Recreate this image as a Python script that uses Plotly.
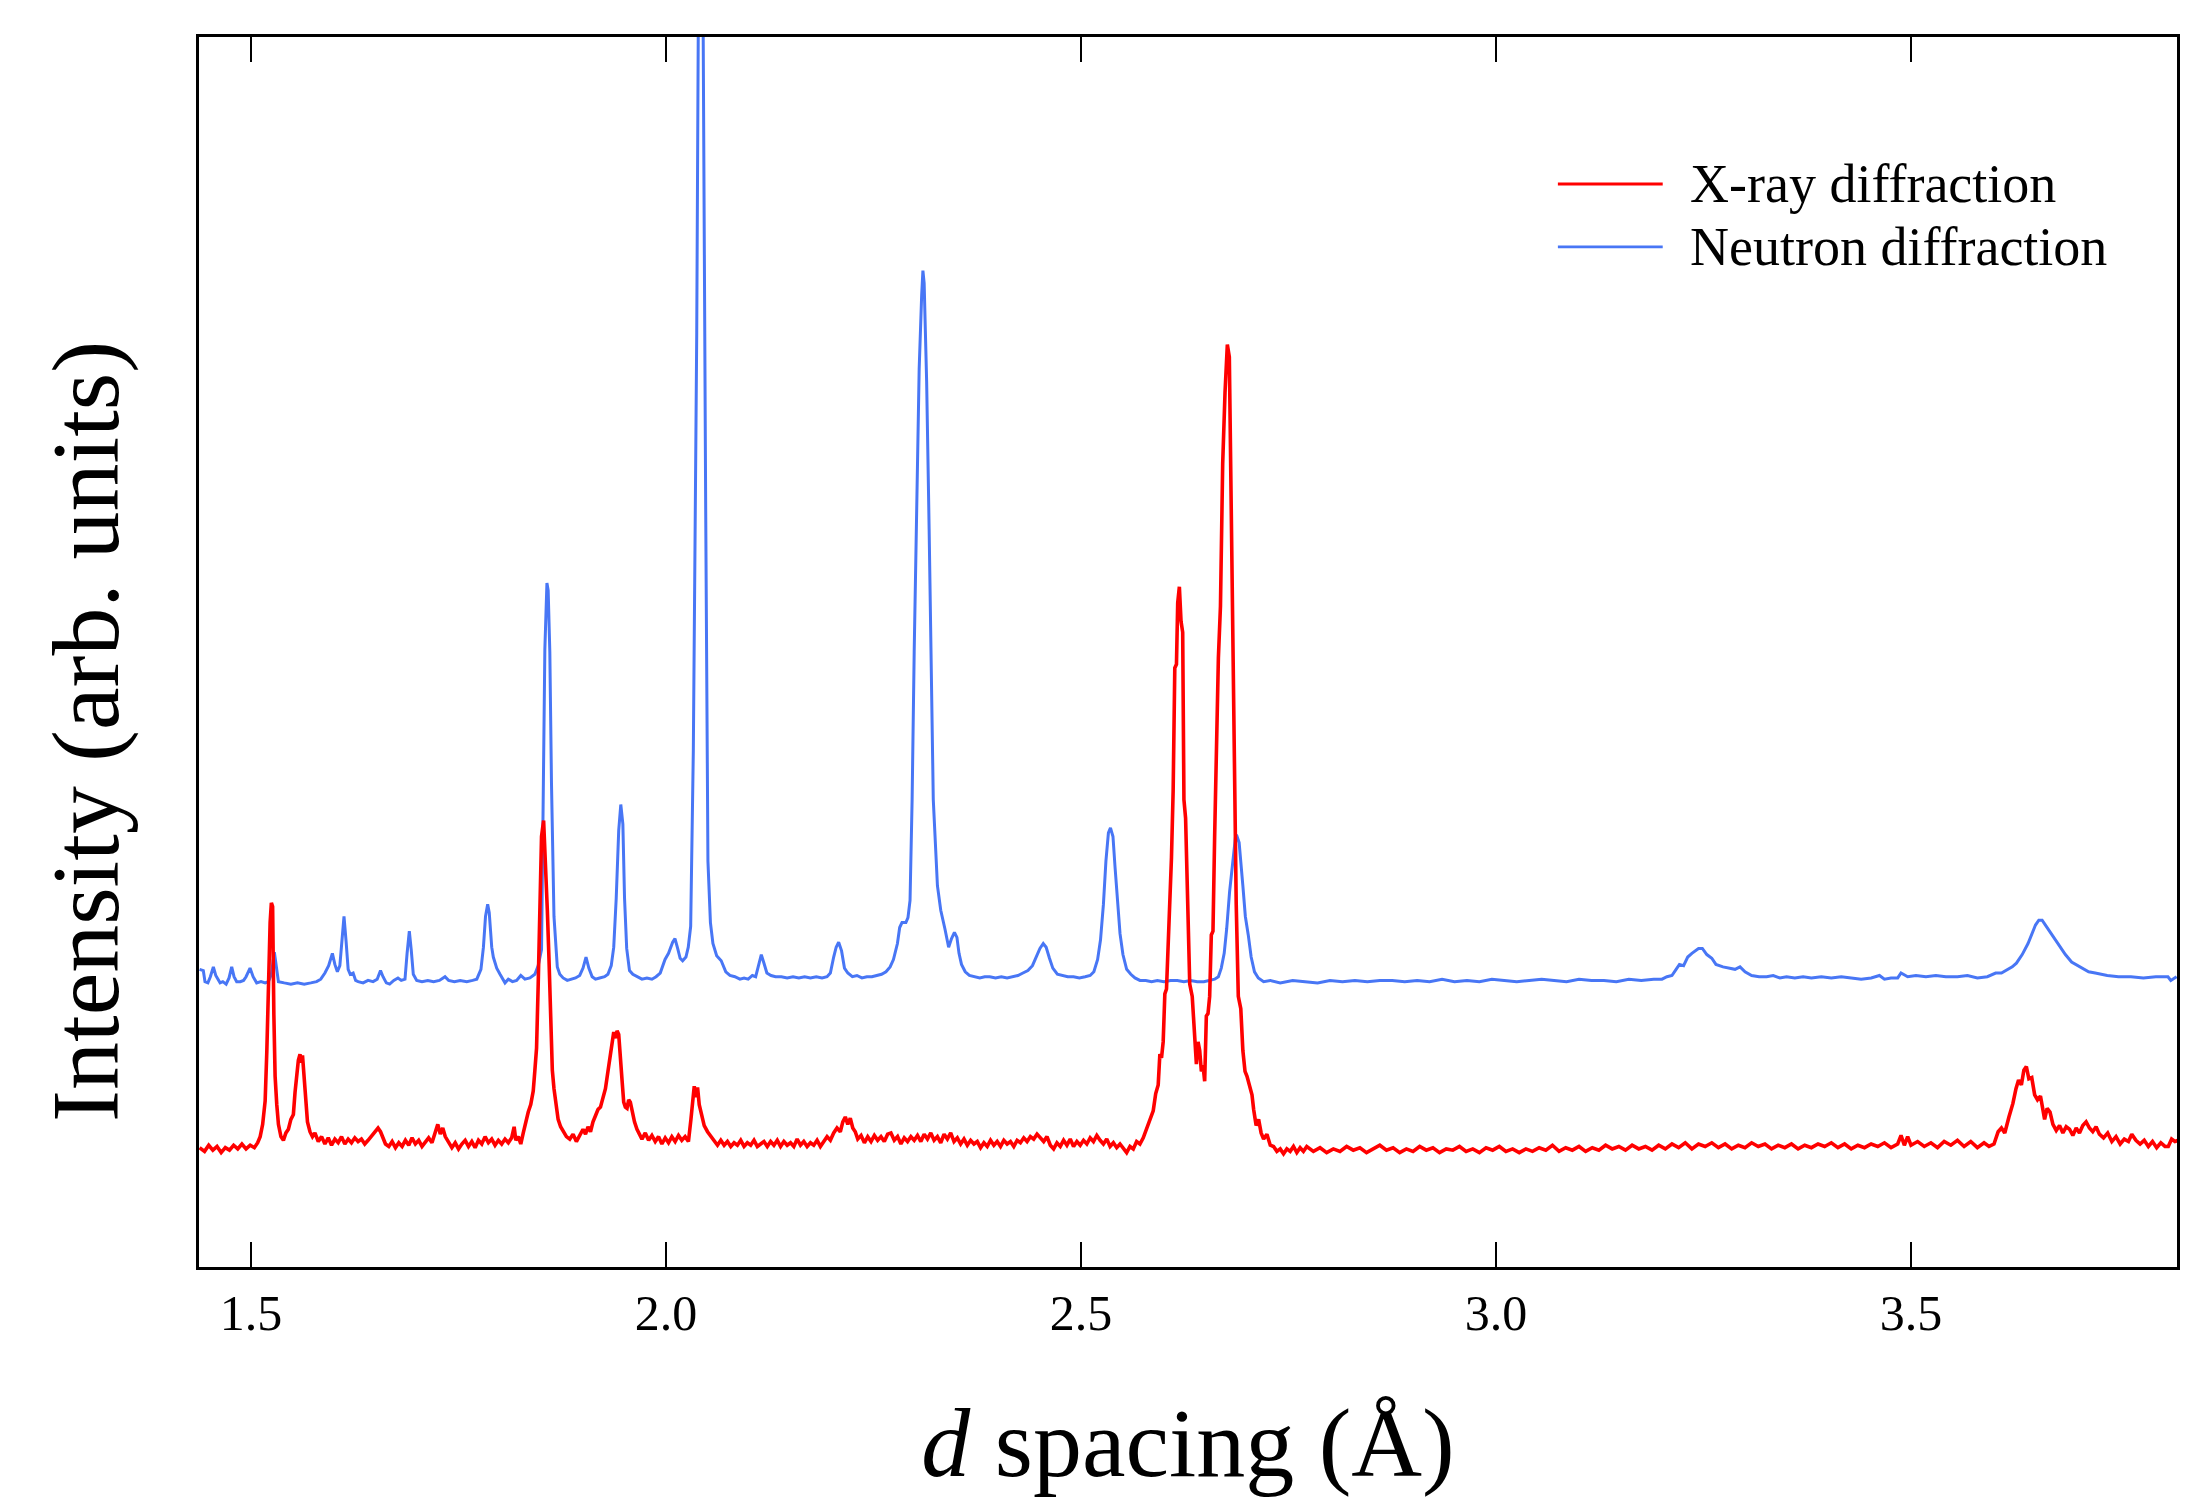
import plotly.graph_objects as go

# ---------------- data ----------------
SERIES_NAMES = ["X-ray diffraction", "Neutron diffraction"]

XRAY_D = [
    1.438, 1.444, 1.449, 1.454, 1.459, 1.464, 1.469, 1.474, 1.479, 1.484, 1.489, 1.494, 1.499, 1.504,
    1.508, 1.511, 1.514, 1.517, 1.519, 1.521, 1.523, 1.5245, 1.526, 1.5275, 1.529, 1.531, 1.533, 1.536,
    1.539, 1.542, 1.545, 1.548, 1.551, 1.553, 1.555, 1.557, 1.559, 1.5605, 1.562, 1.564, 1.566, 1.568,
    1.571, 1.574, 1.577, 1.581, 1.585, 1.589, 1.593, 1.597, 1.601, 1.605, 1.609, 1.613, 1.617, 1.621,
    1.625, 1.629, 1.633, 1.637, 1.641, 1.645, 1.649, 1.653, 1.656, 1.659, 1.662, 1.666, 1.670, 1.674,
    1.678, 1.682, 1.686, 1.690, 1.694, 1.698, 1.702, 1.706, 1.710, 1.714, 1.718, 1.722, 1.725, 1.728,
    1.731, 1.734, 1.738, 1.742, 1.746, 1.750, 1.754, 1.758, 1.762, 1.766, 1.770, 1.774, 1.778, 1.782,
    1.786, 1.790, 1.794, 1.798, 1.802, 1.806, 1.810, 1.814, 1.817, 1.819, 1.822, 1.825, 1.828, 1.831,
    1.834, 1.837, 1.840, 1.842, 1.844, 1.846, 1.848, 1.850, 1.8525, 1.855, 1.857, 1.859, 1.861, 1.863,
    1.865, 1.867, 1.870, 1.873, 1.876, 1.880, 1.884, 1.888, 1.892, 1.896, 1.900, 1.903, 1.906, 1.909,
    1.912, 1.915, 1.918, 1.921, 1.924, 1.927, 1.930, 1.933, 1.935, 1.937, 1.939, 1.941, 1.943, 1.945,
    1.947, 1.949, 1.951, 1.953, 1.955, 1.957, 1.959, 1.962, 1.965, 1.968, 1.971, 1.975, 1.979, 1.983,
    1.987, 1.991, 1.995, 1.999, 2.003, 2.007, 2.011, 2.015, 2.019, 2.023, 2.027, 2.030, 2.032, 2.034,
    2.036, 2.038, 2.040, 2.043, 2.046, 2.050, 2.054, 2.058, 2.062, 2.066, 2.070, 2.074, 2.078, 2.082,
    2.086, 2.090, 2.094, 2.098, 2.102, 2.106, 2.110, 2.114, 2.118, 2.122, 2.126, 2.130, 2.134, 2.138,
    2.142, 2.146, 2.150, 2.154, 2.158, 2.162, 2.166, 2.170, 2.174, 2.178, 2.182, 2.186, 2.190, 2.194,
    2.198, 2.202, 2.206, 2.210, 2.213, 2.216, 2.219, 2.222, 2.225, 2.228, 2.231, 2.235, 2.239, 2.243,
    2.247, 2.251, 2.255, 2.259, 2.263, 2.267, 2.271, 2.275, 2.279, 2.283, 2.287, 2.291, 2.295, 2.299,
    2.303, 2.307, 2.311, 2.315, 2.319, 2.323, 2.327, 2.331, 2.335, 2.339, 2.343, 2.347, 2.351, 2.355,
    2.359, 2.363, 2.367, 2.371, 2.375, 2.379, 2.383, 2.387, 2.391, 2.395, 2.399, 2.403, 2.407, 2.411,
    2.415, 2.419, 2.423, 2.427, 2.431, 2.435, 2.439, 2.443, 2.447, 2.451, 2.455, 2.459, 2.463, 2.467,
    2.471, 2.475, 2.479, 2.483, 2.487, 2.491, 2.495, 2.499, 2.503, 2.507, 2.511, 2.515, 2.519, 2.523,
    2.527, 2.531, 2.535, 2.539, 2.543, 2.547, 2.551, 2.555, 2.559, 2.563, 2.567, 2.571, 2.575, 2.579,
    2.583, 2.587, 2.590, 2.593, 2.595, 2.597, 2.599, 2.601, 2.603, 2.605, 2.607, 2.609, 2.611, 2.613,
    2.615, 2.6165, 2.6185, 2.6205, 2.6225, 2.624, 2.626, 2.629, 2.631, 2.634, 2.637, 2.639, 2.641, 2.643,
    2.645, 2.647, 2.649, 2.651, 2.653, 2.655, 2.657, 2.659, 2.661, 2.663, 2.6655, 2.668, 2.6707, 2.6735,
    2.6763, 2.6787, 2.6815, 2.6843, 2.687, 2.6895, 2.6925, 2.695, 2.6976, 2.700, 2.703, 2.706, 2.708, 2.711,
    2.714, 2.717, 2.720, 2.724, 2.728, 2.732, 2.736, 2.740, 2.744, 2.748, 2.752, 2.756, 2.760, 2.764,
    2.768, 2.772, 2.780, 2.788, 2.796, 2.804, 2.812, 2.820, 2.828, 2.836, 2.844, 2.852, 2.860, 2.868,
    2.876, 2.884, 2.892, 2.900, 2.908, 2.916, 2.924, 2.932, 2.940, 2.948, 2.956, 2.964, 2.972, 2.980,
    2.988, 2.996, 3.004, 3.012, 3.020, 3.028, 3.036, 3.044, 3.052, 3.060, 3.068, 3.076, 3.084, 3.092,
    3.100, 3.108, 3.116, 3.124, 3.132, 3.140, 3.148, 3.156, 3.164, 3.172, 3.180, 3.188, 3.196, 3.204,
    3.212, 3.220, 3.228, 3.236, 3.244, 3.252, 3.260, 3.268, 3.276, 3.284, 3.292, 3.300, 3.308, 3.316,
    3.324, 3.332, 3.340, 3.348, 3.356, 3.364, 3.372, 3.380, 3.388, 3.396, 3.404, 3.412, 3.420, 3.428,
    3.436, 3.444, 3.452, 3.460, 3.468, 3.476, 3.484, 3.488, 3.492, 3.496, 3.500, 3.508, 3.516, 3.524,
    3.532, 3.540, 3.548, 3.556, 3.564, 3.572, 3.580, 3.588, 3.594, 3.600, 3.605, 3.609, 3.613, 3.618,
    3.6228, 3.6265, 3.6296, 3.633, 3.636, 3.639, 3.642, 3.6455, 3.649, 3.6524, 3.656, 3.661, 3.664, 3.6675,
    3.671, 3.675, 3.679, 3.683, 3.687, 3.691, 3.695, 3.699, 3.703, 3.707, 3.711, 3.715, 3.719, 3.723,
    3.727, 3.732, 3.737, 3.742, 3.747, 3.752, 3.757, 3.762, 3.766, 3.771, 3.776, 3.781, 3.786, 3.791,
    3.796, 3.801, 3.806, 3.810, 3.814, 3.818, 3.822,
]
XRAY_I = [
    9.7, 9.4, 9.9, 9.5, 9.8, 9.3, 9.7, 9.5, 9.9, 9.6, 10.0, 9.6, 9.9, 9.7,
    10.1, 10.6, 11.6, 13.5, 17.5, 24.0, 28.0, 29.6, 29.3, 20.5, 15.5, 13.2, 11.6, 10.6,
    10.3, 10.9, 11.2, 12.0, 12.4, 14.2, 15.8, 16.8, 17.3, 16.6, 17.2, 15.6, 13.2, 11.8,
    11.0, 10.6, 10.9, 10.2, 10.6, 10.0, 10.5, 9.9, 10.4, 10.1, 10.6, 10.0, 10.4, 10.1,
    10.5, 10.2, 10.4, 10.0, 10.3, 10.6, 10.9, 11.3, 11.0, 10.5, 10.0, 9.8, 10.2, 9.7,
    10.1, 9.8, 10.3, 9.9, 10.5, 10.0, 10.3, 9.8, 10.2, 10.5, 10.1, 11.0, 11.6, 10.8,
    11.3, 10.6, 10.2, 9.7, 10.1, 9.6, 10.0, 10.3, 9.8, 10.2, 9.7, 10.3, 10.0, 10.6,
    10.1, 10.4, 9.9, 10.3, 10.0, 10.4, 10.1, 10.5, 11.4, 10.3, 10.6, 10.0, 10.9, 11.8,
    12.6, 13.2, 14.3, 16.0, 17.8, 23.0, 30.0, 35.0, 36.3, 33.0, 29.0, 25.0, 19.0, 16.0,
    14.5, 13.3, 12.0, 11.4, 11.0, 10.6, 10.4, 10.8, 10.2, 10.7, 11.2, 10.8, 11.4, 11.0,
    11.8, 12.3, 12.8, 13.0, 13.8, 14.5, 15.9, 17.4, 18.5, 19.1, 18.6, 19.2, 18.9, 17.4,
    15.2, 13.4, 13.0, 12.9, 13.6, 13.4, 12.7, 11.8, 11.2, 10.8, 10.4, 10.9, 10.3, 10.7,
    10.2, 10.6, 10.0, 10.5, 10.1, 10.6, 10.2, 10.7, 10.3, 10.6, 10.2, 12.0, 13.3, 14.7,
    13.8, 14.6, 13.2, 12.2, 11.5, 11.0, 10.6, 10.2, 9.9, 10.3, 9.9, 10.2, 9.8, 10.1,
    9.9, 10.3, 9.8, 10.1, 9.9, 10.3, 9.8, 10.0, 10.2, 9.8, 10.2, 9.9, 10.3, 9.8,
    10.2, 9.9, 10.1, 9.8, 10.4, 9.9, 10.2, 9.8, 10.1, 9.9, 10.3, 9.8, 10.2, 10.6,
    10.3, 10.9, 11.3, 11.0, 11.8, 12.2, 11.6, 12.1, 11.3, 11.0, 10.4, 10.7, 10.1, 10.6,
    10.2, 10.7, 10.3, 10.6, 10.2, 10.8, 10.9, 10.3, 10.6, 10.0, 10.5, 10.2, 10.6, 10.3,
    10.7, 10.2, 10.8, 10.4, 10.9, 10.3, 10.6, 10.1, 10.8, 10.4, 10.9, 10.2, 10.5, 10.0,
    10.4, 9.9, 10.3, 10.0, 10.2, 9.7, 10.1, 9.8, 10.3, 9.9, 10.2, 9.8, 10.3, 10.0,
    10.2, 9.8, 10.3, 10.1, 10.5, 10.2, 10.6, 10.4, 10.8, 10.5, 10.2, 10.6, 9.9, 9.6,
    10.1, 9.8, 10.3, 9.9, 10.4, 9.8, 10.2, 9.9, 10.3, 10.0, 10.5, 10.2, 10.7, 10.3,
    10.0, 10.4, 9.8, 10.1, 9.7, 10.0, 9.6, 9.3, 9.8, 9.6, 10.2, 10.0, 10.5, 11.2,
    11.9, 12.7, 14.1, 14.8, 17.3, 17.0, 18.3, 22.2, 22.6, 26.0, 30.0, 33.3, 38.7, 48.7,
    49.0, 54.0, 55.3, 52.5, 51.6, 38.0, 36.5, 29.8, 23.0, 22.0, 18.7, 16.5, 18.3, 17.6,
    15.9, 16.4, 15.1, 20.4, 20.6, 22.0, 27.0, 27.3, 35.0, 41.2, 49.5, 53.7, 65.3, 71.1,
    75.0, 74.0, 57.8, 41.2, 29.5, 22.0, 21.0, 17.6, 15.9, 15.5, 14.8, 14.0, 12.8, 11.5,
    12.0, 10.9, 10.4, 10.8, 9.9, 9.8, 9.4, 9.6, 9.2, 9.6, 9.4, 9.8, 9.3, 9.7,
    9.4, 9.8, 9.4, 9.7, 9.3, 9.6, 9.4, 9.8, 9.5, 9.7, 9.3, 9.6, 9.9, 9.5,
    9.7, 9.3, 9.6, 9.4, 9.8, 9.5, 9.7, 9.3, 9.6, 9.5, 9.8, 9.4, 9.6, 9.3,
    9.7, 9.5, 9.8, 9.4, 9.6, 9.3, 9.6, 9.4, 9.7, 9.5, 9.9, 9.4, 9.7, 9.5,
    9.8, 9.4, 9.7, 9.5, 9.9, 9.6, 9.8, 9.5, 9.9, 9.6, 9.8, 9.5, 9.9, 9.6,
    10.0, 9.7, 10.1, 9.6, 10.0, 9.8, 10.1, 9.7, 10.0, 9.6, 9.9, 9.7, 10.1, 9.8,
    10.0, 9.6, 9.9, 9.7, 10.0, 9.6, 9.9, 9.7, 10.0, 9.8, 10.1, 9.7, 10.0, 9.6,
    9.9, 9.7, 10.0, 9.8, 10.1, 9.7, 10.0, 10.7, 9.9, 10.6, 9.9, 10.2, 9.8, 10.1,
    9.7, 10.2, 9.9, 10.3, 9.8, 10.2, 9.7, 10.1, 9.8, 10.0, 11.0, 11.3, 10.9, 12.2,
    13.3, 14.5, 15.2, 14.8, 16.0, 16.3, 15.3, 15.4, 14.0, 13.6, 13.9, 12.0, 12.9, 12.6,
    11.6, 11.1, 11.5, 10.9, 11.4, 11.2, 10.7, 11.3, 10.9, 11.5, 11.8, 11.3, 11.0, 11.4,
    10.8, 10.5, 10.9, 10.2, 10.6, 10.0, 10.4, 10.2, 10.8, 10.3, 10.0, 10.3, 9.8, 10.2,
    9.7, 10.1, 9.8, 9.8, 10.4, 10.2, 10.3,
]

NEUTRON_D = [
    1.438, 1.4425, 1.4445, 1.448, 1.451, 1.4546, 1.4575, 1.4627, 1.466, 1.470, 1.4735, 1.4767, 1.4795, 1.4827,
    1.487, 1.491, 1.494, 1.4988, 1.5025, 1.5068, 1.512, 1.517, 1.5209, 1.5245, 1.5281, 1.5305, 1.533, 1.540,
    1.548, 1.556, 1.564, 1.572, 1.579, 1.584, 1.589, 1.5935, 1.598, 1.601, 1.604, 1.607, 1.6095, 1.612,
    1.6145, 1.617, 1.6195, 1.623, 1.626, 1.629, 1.635, 1.641, 1.647, 1.652, 1.656, 1.659, 1.663, 1.667,
    1.672, 1.677, 1.681, 1.6855, 1.688, 1.6907, 1.693, 1.6955, 1.6996, 1.706, 1.713, 1.720, 1.727, 1.7337,
    1.738, 1.745, 1.752, 1.760, 1.767, 1.772, 1.777, 1.780, 1.7825, 1.7851, 1.787, 1.790, 1.7919, 1.796,
    1.800, 1.806, 1.810, 1.815, 1.820, 1.825, 1.830, 1.836, 1.842, 1.846, 1.850, 1.852, 1.854, 1.8565,
    1.858, 1.860, 1.862, 1.865, 1.869, 1.872, 1.876, 1.881, 1.886, 1.891, 1.896, 1.900, 1.9036, 1.907,
    1.911, 1.915, 1.920, 1.926, 1.930, 1.934, 1.937, 1.940, 1.943, 1.9455, 1.948, 1.950, 1.9526, 1.956,
    1.960, 1.966, 1.971, 1.977, 1.983, 1.988, 1.993, 1.9988, 2.003, 2.008, 2.0108, 2.014, 2.017, 2.020,
    2.024, 2.0268, 2.0297, 2.0329, 2.035, 2.037, 2.0388, 2.0418, 2.0448, 2.046, 2.0478, 2.0505, 2.0535, 2.0565,
    2.061, 2.0665, 2.072, 2.077, 2.083, 2.089, 2.094, 2.099, 2.104, 2.108, 2.112, 2.1148, 2.118, 2.1215,
    2.1265, 2.132, 2.139, 2.146, 2.153, 2.160, 2.167, 2.174, 2.181, 2.188, 2.194, 2.198, 2.202, 2.205,
    2.208, 2.2115, 2.215, 2.219, 2.2245, 2.230, 2.236, 2.242, 2.248, 2.254, 2.2597, 2.265, 2.270, 2.274,
    2.2788, 2.2815, 2.2843, 2.289, 2.2915, 2.294, 2.2965, 2.299, 2.302, 2.305, 2.308, 2.3095, 2.311, 2.314,
    2.317, 2.320, 2.322, 2.327, 2.331, 2.336, 2.3405, 2.344, 2.3475, 2.3505, 2.353, 2.356, 2.3605, 2.3655,
    2.372, 2.378, 2.384, 2.390, 2.397, 2.404, 2.411, 2.418, 2.424, 2.430, 2.436, 2.4415, 2.446, 2.4505,
    2.4545, 2.458, 2.462, 2.466, 2.4715, 2.477, 2.484, 2.491, 2.498, 2.505, 2.511, 2.5155, 2.520, 2.5235,
    2.527, 2.530, 2.533, 2.5355, 2.5385, 2.541, 2.544, 2.547, 2.5505, 2.555, 2.560, 2.565, 2.571, 2.578,
    2.585, 2.592, 2.600, 2.608, 2.616, 2.624, 2.632, 2.640, 2.648, 2.655, 2.661, 2.6655, 2.669, 2.6725,
    2.6755, 2.679, 2.683, 2.686, 2.688, 2.6905, 2.695, 2.698, 2.7015, 2.705, 2.709, 2.7136, 2.720, 2.728,
    2.740, 2.755, 2.770, 2.785, 2.800, 2.815, 2.830, 2.845, 2.860, 2.875, 2.890, 2.905, 2.920, 2.935,
    2.950, 2.965, 2.980, 2.995, 3.010, 3.025, 3.040, 3.055, 3.070, 3.085, 3.100, 3.115, 3.130, 3.145,
    3.160, 3.175, 3.190, 3.200, 3.206, 3.212, 3.217, 3.221, 3.226, 3.231, 3.236, 3.2394, 3.244, 3.2486,
    3.254, 3.260, 3.265, 3.2735, 3.282, 3.288, 3.294, 3.300, 3.308, 3.317, 3.326, 3.334, 3.342, 3.350,
    3.360, 3.370, 3.380, 3.392, 3.404, 3.416, 3.428, 3.440, 3.452, 3.462, 3.468, 3.476, 3.484, 3.488,
    3.496, 3.506, 3.518, 3.530, 3.542, 3.556, 3.568, 3.580, 3.592, 3.602, 3.609, 3.615, 3.622, 3.627,
    3.634, 3.641, 3.646, 3.650, 3.654, 3.658, 3.662, 3.667, 3.673, 3.679, 3.686, 3.6935, 3.699, 3.706,
    3.714, 3.722, 3.7365, 3.750, 3.765, 3.780, 3.795, 3.8096, 3.813, 3.820,
]
NEUTRON_I = [
    24.2, 24.1, 23.2, 23.1, 23.6, 24.4, 23.7, 23.1, 23.2, 23.0, 23.5, 24.4, 23.6, 23.2,
    23.2, 23.3, 23.6, 24.3, 23.6, 23.1, 23.2, 23.1, 23.2, 23.8, 25.6, 24.3, 23.2, 23.1,
    23.0, 23.1, 23.0, 23.1, 23.2, 23.4, 23.9, 24.5, 25.5, 24.6, 24.0, 24.5, 26.3, 28.5,
    26.5, 24.2, 23.8, 23.9, 23.3, 23.2, 23.1, 23.3, 23.2, 23.4, 24.1, 23.6, 23.1, 23.0,
    23.3, 23.5, 23.3, 23.4, 25.5, 27.3, 25.8, 23.8, 23.3, 23.2, 23.3, 23.2, 23.3, 23.6,
    23.3, 23.2, 23.3, 23.2, 23.3, 23.4, 24.2, 26.0, 28.5, 29.5, 28.8, 26.0, 25.2, 24.3,
    23.8, 23.1, 23.4, 23.2, 23.3, 23.7, 23.4, 23.5, 23.8, 24.5, 25.8, 36.6, 50.2, 55.6,
    55.0, 50.0, 39.3, 28.5, 24.4, 23.8, 23.5, 23.3, 23.4, 23.5, 23.7, 24.3, 25.2, 24.3,
    23.6, 23.4, 23.5, 23.6, 23.8, 24.5, 26.0, 30.0, 35.5, 37.6, 36.0, 30.0, 25.9, 24.1,
    23.8, 23.6, 23.4, 23.5, 23.4, 23.6, 23.9, 25.0, 25.5, 26.4, 26.7, 25.9, 25.1, 24.9,
    25.2, 26.0, 27.7, 42.0, 58.0, 76.0, 100.0, 125.0, 100.0, 82.0, 61.5, 33.0, 28.0, 26.3,
    25.3, 24.9, 24.0, 23.7, 23.6, 23.4, 23.5, 23.4, 23.7, 23.6, 24.6, 25.4, 24.7, 23.9,
    23.7, 23.6, 23.6, 23.5, 23.6, 23.5, 23.6, 23.5, 23.6, 23.5, 23.6, 23.9, 25.2, 26.0,
    26.4, 25.7, 24.3, 23.9, 23.6, 23.7, 23.5, 23.6, 23.6, 23.7, 23.8, 24.0, 24.4, 25.0,
    26.3, 27.6, 28.0, 28.0, 28.4, 29.8, 38.0, 50.0, 62.0, 73.0, 79.0, 81.0, 80.0, 72.0,
    60.0, 46.0, 38.0, 31.0, 29.0, 27.5, 26.0, 26.7, 27.2, 26.8, 25.5, 24.6, 24.0, 23.7,
    23.6, 23.5, 23.6, 23.6, 23.5, 23.6, 23.5, 23.6, 23.7, 23.9, 24.1, 24.5, 25.2, 25.9,
    26.3, 26.0, 25.1, 24.3, 23.8, 23.7, 23.6, 23.6, 23.5, 23.6, 23.7, 24.0, 25.0, 26.6,
    29.5, 33.0, 35.3, 35.7, 35.0, 32.5, 29.5, 27.1, 25.4, 24.2, 23.8, 23.5, 23.3, 23.3,
    23.2, 23.3, 23.2, 23.3, 23.3, 23.2, 23.3, 23.2, 23.2, 23.3, 23.4, 23.6, 24.3, 25.5,
    27.5, 30.5, 32.9, 34.9, 35.0, 34.5, 31.0, 28.5, 27.0, 25.2, 24.0, 23.5, 23.2, 23.3,
    23.1, 23.3, 23.2, 23.1, 23.3, 23.2, 23.3, 23.2, 23.3, 23.3, 23.2, 23.3, 23.2, 23.4,
    23.2, 23.3, 23.2, 23.4, 23.3, 23.2, 23.3, 23.4, 23.3, 23.2, 23.4, 23.3, 23.3, 23.2,
    23.4, 23.3, 23.4, 23.4, 23.6, 23.7, 24.2, 24.6, 24.5, 25.2, 25.5, 25.7, 25.9, 25.9,
    25.4, 25.1, 24.6, 24.4, 24.3, 24.2, 24.4, 24.0, 23.7, 23.6, 23.6, 23.7, 23.5, 23.6,
    23.5, 23.6, 23.5, 23.6, 23.5, 23.6, 23.5, 23.4, 23.5, 23.7, 23.4, 23.5, 23.5, 23.9,
    23.6, 23.7, 23.6, 23.7, 23.6, 23.6, 23.7, 23.5, 23.6, 23.9, 23.9, 24.1, 24.4, 24.7,
    25.4, 26.3, 27.2, 27.8, 28.2, 28.2, 27.8, 27.3, 26.7, 26.1, 25.4, 24.8, 24.6, 24.3,
    24.0, 23.9, 23.7, 23.6, 23.6, 23.5, 23.6, 23.6, 23.3, 23.6,
]

TICK_VALUES = [1.5, 2.0, 2.5, 3.0, 3.5]
TICK_LABELS = ["1.5", "2.0", "2.5", "3.0", "3.5"]
X_RANGE = [1.4373, 3.8205]
Y_RANGE = [0, 100]

COLORS = ["#FF0000", "#4876F5"]
FONT = "Liberation Serif, Times New Roman, serif"

# ---------------- figure ----------------
fig = go.Figure()
fig.add_trace(go.Scatter(x=NEUTRON_D, y=NEUTRON_I, mode="lines", name=SERIES_NAMES[1],
                         line=dict(color=COLORS[1], width=3.0), showlegend=False))
fig.add_trace(go.Scatter(x=XRAY_D, y=XRAY_I, mode="lines", name=SERIES_NAMES[0],
                         line=dict(color=COLORS[0], width=3.6), showlegend=False))

# legend drawn as long line samples + labels (paper coordinates)
legend_rows = [0.8805, 0.8293]
for name, color, yy in zip(SERIES_NAMES, COLORS, legend_rows):
    fig.add_shape(type="line", xref="paper", yref="paper", x0=0.687, x1=0.740, y0=yy, y1=yy,
                  line=dict(color=color, width=2.8))
    fig.add_annotation(xref="paper", yref="paper", x=0.7528, y=yy, text=name, showarrow=False,
                       xanchor="left", yanchor="middle", font=dict(family=FONT, size=54, color="black"))

# y-axis title as rotated annotation (sits slightly below the plot centre in the reference)
fig.add_annotation(xref="paper", yref="paper", x=-0.0571, y=0.435, text="Intensity (arb. units)",
                   textangle=-90, showarrow=False, xanchor="center", yanchor="middle",
                   font=dict(family=FONT, size=96, color="black"))

fig.update_layout(
    width=2187, height=1502,
    margin=dict(l=199, r=10, t=37, b=235),
    paper_bgcolor="white", plot_bgcolor="white",
    font=dict(family=FONT, color="black"),
    showlegend=False,
    xaxis=dict(
        range=X_RANGE, tickvals=TICK_VALUES, ticktext=TICK_LABELS,
        ticks="inside", ticklen=25, tickwidth=2, tickcolor="black",
        showline=True, linewidth=3, linecolor="black", mirror="ticks",
        showgrid=False, zeroline=False,
        tickfont=dict(family=FONT, size=50, color="black"),
        ticklabelstandoff=0,
        title=dict(text="<i>d</i> spacing (Å)", font=dict(family=FONT, size=98, color="black"),
                   standoff=68),
        automargin=False,
    ),
    yaxis=dict(
        range=Y_RANGE, showticklabels=False, ticks="",
        showline=True, linewidth=3, linecolor="black", mirror=True,
        showgrid=False, zeroline=False, automargin=False,
    ),
)

fig.write_html("out.html")
